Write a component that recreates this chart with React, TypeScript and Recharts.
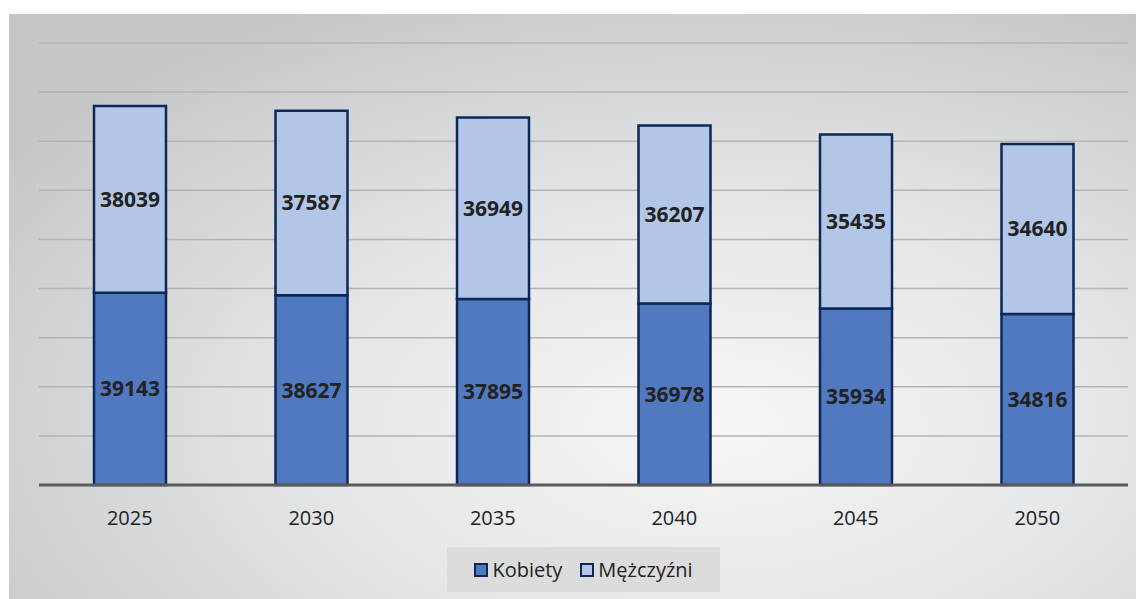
import React from "react";
import { BarChart, Bar, XAxis, YAxis, CartesianGrid, Legend, LabelList } from "recharts";

const years = ["2025", "2030", "2035", "2040", "2045", "2050"];
const kobiety = [39143, 38627, 37895, 36978, 35934, 34816];
const mezczyzni = [38039, 37587, 36949, 36207, 35435, 34640];
const yTicks = [0, 10000, 20000, 30000, 40000, 50000, 60000, 70000, 80000, 90000];

const data = years.map((year, i) => ({
  year,
  Kobiety: kobiety[i],
  "Mężczyźni": mezczyzni[i],
}));

const font = "'Open Sans', 'DejaVu Sans', sans-serif";
const stroke = "#0D2857";

const seriesColors = [
  { name: "Kobiety", fill: "#5079C0" },
  { name: "Mężczyźni", fill: "#B2C6E7" },
];

function LegendBox() {
  return (
    <div
      style={{
        width: 273,
        height: 45,
        background: "#dcdcdc",
        display: "flex",
        alignItems: "center",
        justifyContent: "center",
        gap: 18,
        fontFamily: font,
        fontSize: 20,
        color: "#222",
      }}
    >
      {seriesColors.map((s) => (
        <div key={s.name} style={{ display: "flex", alignItems: "center" }}>
          <span
            style={{
              display: "inline-block",
              width: 10,
              height: 10,
              background: s.fill,
              border: `2px solid ${stroke}`,
              marginRight: 4,
            }}
          />
          <span>{s.name}</span>
        </div>
      ))}
    </div>
  );
}

export default function App() {
  return (
    <div
      style={{
        marginLeft: 1,
        marginTop: 6,
        width: 1135,
        height: 585,
        background:
          "radial-gradient(ellipse 75% 80% at 62% 70%, #f6f6f6 0%, #e6e7e8 45%, #c6c7c9 100%)",
      }}
    >
      <BarChart
        width={1135}
        height={585}
        data={data}
        margin={{ top: 29, right: 16, left: 30, bottom: 7 }}
      >
        <CartesianGrid vertical={false} stroke="#b4b4b4" strokeWidth={1.5} />
        <XAxis
          dataKey="year"
          height={62}
          tickLine={false}
          axisLine={{ stroke: "#5a5a5a", strokeWidth: 3 }}
          tick={{ fill: "#222", fontSize: 20, fontFamily: font }}
          dy={18}
        />
        <YAxis hide domain={[0, 90000]} ticks={yTicks} />
        <Legend
          verticalAlign="bottom"
          content={() => <LegendBox />}
          wrapperStyle={{ left: 438, width: 273, height: 45, bottom: 7 }}
        />
        <Bar dataKey="Kobiety" stackId="a" fill="#5079C0" stroke={stroke} strokeWidth={2.5} barSize={72} isAnimationActive={false}>
          <LabelList dataKey="Kobiety" position="center" fill="#222" fontSize={21} fontWeight="bold" fontFamily={font} />
        </Bar>
        <Bar dataKey="Mężczyźni" stackId="a" fill="#B2C6E7" stroke={stroke} strokeWidth={2.5} barSize={72} isAnimationActive={false}>
          <LabelList dataKey="Mężczyźni" position="center" fill="#222" fontSize={21} fontWeight="bold" fontFamily={font} />
        </Bar>
      </BarChart>
    </div>
  );
}
